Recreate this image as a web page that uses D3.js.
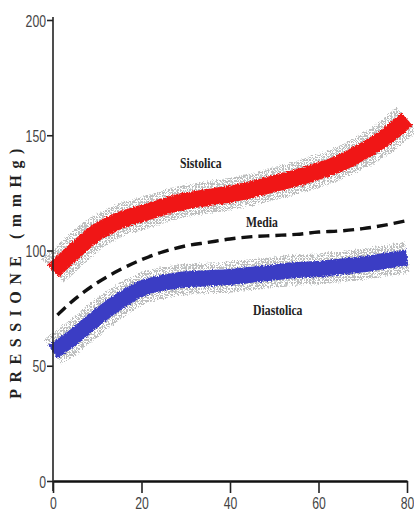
<!DOCTYPE html>
<html>
<head>
<meta charset="utf-8">
<script src="https://cdn.jsdelivr.net/npm/d3@7"></script>
<style>
  html, body { margin: 0; padding: 0; background: #fff; }
  svg { display: block; }
</style>
</head>
<body>
<svg id="chart"></svg>
<script>
// age (anni) and pressure values (mmHg)
const ages = [0, 5, 10, 15, 20, 25, 30, 35, 40, 45, 50, 55, 60, 65, 70, 75, 80];
const sistolica = [91, 100, 108, 113, 116, 119, 121.5, 123, 124.5, 126.5, 129, 131.5, 134.5, 138, 143, 149, 157];
const diastolica = [56, 63, 71, 78, 83.5, 86, 87.5, 88, 88.5, 89.5, 90.5, 91.5, 92, 93, 94, 95.5, 97];
const mediaAges = [1, 5, 10, 15, 20, 25, 30, 35, 40, 45, 50, 55, 60, 65, 70, 75, 80];
const media = [72, 79, 86, 91.5, 96, 99.5, 102, 103.5, 105, 106, 106.5, 107, 108, 108.5, 109.5, 111, 113];
const xTicks = [0, 20, 40, 60, 80];
const yTicks = [0, 50, 100, 150, 200];
const curveLabels = [
  { text: "Sistolica", age: 33.4, value: 136 },
  { text: "Media", age: 47.2, value: 110 },
  { text: "Diastolica", age: 50.8, value: 72 }
];

const width = 414;
const height = 517;
const marginTop = 20;
const marginRight = 7;
const marginBottom = 36;
const marginLeft = 53;

const x = d3.scaleLinear()
    .domain([0, 80])
    .range([marginLeft, width - marginRight]);

const y = d3.scaleLinear()
    .domain([0, 200])
    .range([height - marginBottom, marginTop]);

const svg = d3.select("#chart")
    .attr("width", width)
    .attr("height", height);

const defs = svg.append("defs");

// stippled halo around the bands
const pat = defs.append("pattern")
    .attr("id", "dots")
    .attr("patternUnits", "userSpaceOnUse")
    .attr("width", 3)
    .attr("height", 3);
pat.append("circle").attr("cx", 1).attr("cy", 1).attr("r", 0.7).attr("fill", "#222");
pat.append("circle").attr("cx", 2.5).attr("cy", 2.4).attr("r", 0.45).attr("fill", "#6f8585");

// rough edges
const rough = defs.append("filter").attr("id", "rough")
    .attr("x", "-5%").attr("y", "-20%").attr("width", "110%").attr("height", "140%");
rough.append("feTurbulence")
    .attr("type", "fractalNoise").attr("baseFrequency", 0.9)
    .attr("numOctaves", 2).attr("seed", 3).attr("result", "noise");
rough.append("feDisplacementMap")
    .attr("in", "SourceGraphic").attr("in2", "noise")
    .attr("scale", 4).attr("xChannelSelector", "R").attr("yChannelSelector", "G");

const line = d3.line()
    .x(d => x(d[0]))
    .y(d => y(d[1]))
    .curve(d3.curveMonotoneX);

const sisData = d3.zip(ages, sistolica);
const diaData = d3.zip(ages, diastolica);
const medData = d3.zip(mediaAges, media);

const bands = svg.append("g").attr("class", "bands");

[[sisData, "#f01818", 17], [diaData, "#3a3ec4", 16]].forEach(([data, color, w]) => {
  bands.append("path")
      .attr("d", line(data))
      .attr("fill", "none")
      .attr("stroke", "url(#dots)")
      .attr("stroke-width", w + 15)
      .attr("opacity", 0.85)
      .attr("filter", "url(#rough)");
  bands.append("path")
      .attr("d", line(data))
      .attr("fill", "none")
      .attr("stroke", color)
      .attr("stroke-width", w)
      .attr("filter", "url(#rough)");
});

// mean pressure, dashed
svg.append("path")
    .attr("d", line(medData))
    .attr("fill", "none")
    .attr("stroke", "#111")
    .attr("stroke-width", 3.4)
    .attr("stroke-dasharray", "11,6");

// curve names
svg.append("g")
    .selectAll("text")
    .data(curveLabels)
    .join("text")
    .attr("transform", d => `translate(${x(d.age)},${y(d.value)}) scale(0.78,1)`)
    .attr("text-anchor", "middle")
    .attr("font-family", "'Liberation Serif', serif")
    .attr("font-weight", "bold")
    .attr("font-size", 15)
    .attr("fill", "#222")
    .text(d => d.text);

// y-axis
const yAxis = svg.append("g")
    .attr("transform", `translate(${marginLeft},0)`)
    .call(d3.axisLeft(y).tickValues(yTicks).tickSize(6).tickSizeOuter(0));
yAxis.select(".domain")
    .attr("d", `M0,${marginTop - 3}V${height - marginBottom + 10}`)
    .attr("stroke", "#222")
    .attr("stroke-width", 1.6);
yAxis.selectAll(".tick line").attr("stroke", "#222").attr("stroke-width", 1.6);
yAxis.selectAll(".tick text")
    .attr("x", 0)
    .attr("dy", "0.36em")
    .attr("transform", "translate(-7,0) scale(0.72,1)")
    .attr("font-family", "'Liberation Sans', Arial, sans-serif")
    .attr("font-size", 17)
    .attr("fill", "#444");

// x-axis
const xAxis = svg.append("g")
    .attr("transform", `translate(0,${height - marginBottom})`)
    .call(d3.axisBottom(x).tickValues(xTicks).tickSize(12).tickSizeOuter(0));
xAxis.select(".domain")
    .attr("stroke", "#111")
    .attr("stroke-width", 2.6);
xAxis.selectAll(".tick line").attr("stroke", "#222").attr("stroke-width", 1.6);
xAxis.selectAll(".tick text")
    .attr("y", 0)
    .attr("dy", "0.72em")
    .attr("transform", "translate(0,16) scale(0.72,1)")
    .attr("font-family", "'Liberation Sans', Arial, sans-serif")
    .attr("font-size", 17)
    .attr("fill", "#444");
svg.selectAll(".tick").attr("font-size", null).attr("font-family", null);

// y title
svg.append("text")
    .attr("transform", `translate(21,${(y(200) + y(0)) / 2 + 20}) rotate(-90)`)
    .attr("text-anchor", "middle")
    .attr("font-family", "'Liberation Serif', serif")
    .attr("font-weight", "bold")
    .attr("font-size", 16)
    .attr("letter-spacing", 6.5)
    .attr("fill", "#222")
    .text("PRESSIONE (mmHg)");
</script>
</body>
</html>
